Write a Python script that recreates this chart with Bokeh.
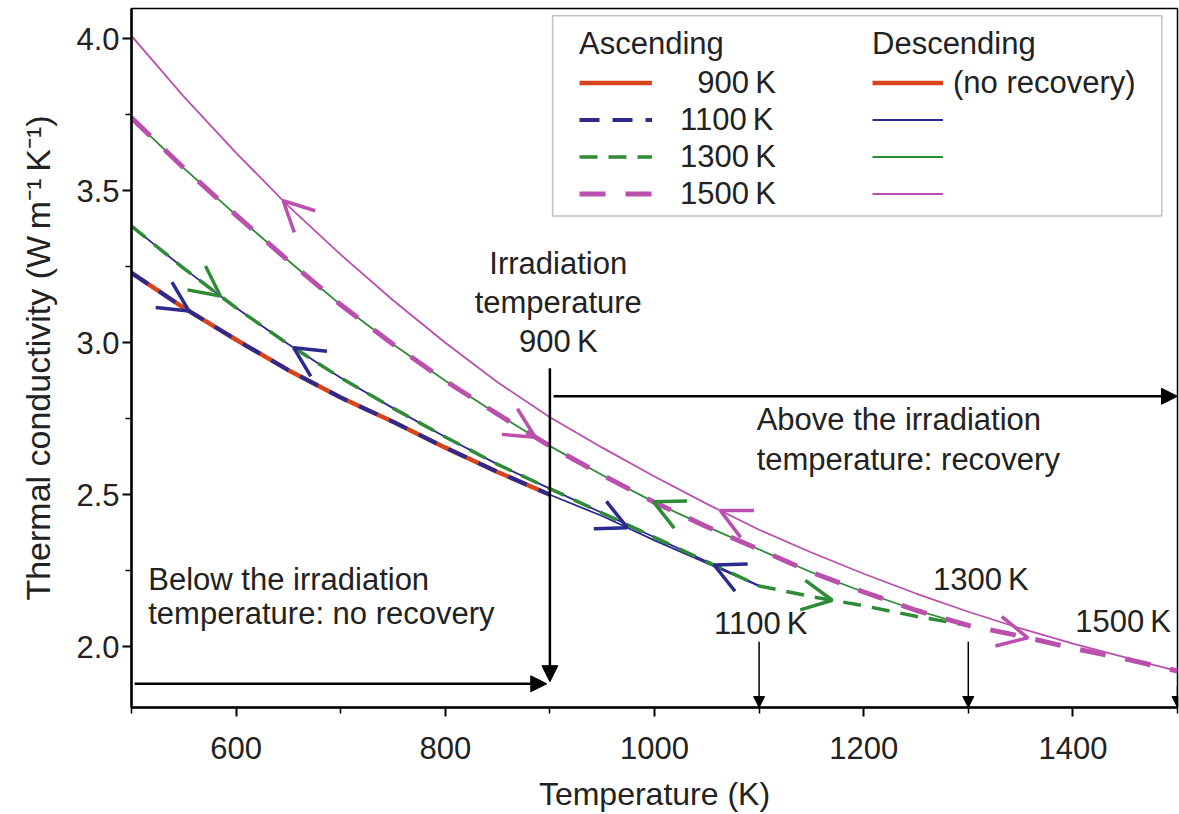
import numpy as np
from bokeh.plotting import figure
from bokeh.models import (Range1d, FixedTicker, NumeralTickFormatter, Arrow, OpenHead,
                          NormalHead, Label, Legend, LegendItem, BoxAnnotation)
from bokeh.embed import file_html
from bokeh.resources import INLINE

# ---------------- data ----------------
T_asc900 = [500, 550, 600, 650, 700, 750, 800, 850, 900]
k_asc900 = [3.23, 3.115, 3.01, 2.91, 2.82, 2.74, 2.655, 2.575, 2.50]

T_asc1100 = [500, 550, 600, 650, 700, 750, 800, 850, 900, 950, 1000, 1050, 1100]
k_asc1100 = [3.23, 3.115, 3.01, 2.91, 2.82, 2.74, 2.655, 2.575, 2.50, 2.43, 2.35, 2.275, 2.20]

T_desc1100 = [500, 550, 600, 650, 700, 750, 800, 850, 900, 950, 1000, 1050, 1100]
k_desc1100 = [3.384, 3.245, 3.115, 2.995, 2.885, 2.785, 2.69, 2.60, 2.52, 2.44, 2.36, 2.28, 2.20]

T_asc1300 = [500, 550, 600, 650, 700, 750, 800, 850, 900, 950, 1000, 1050, 1100,
             1150, 1200, 1250, 1300]
k_asc1300 = [3.384, 3.245, 3.115, 2.995, 2.885, 2.785, 2.69, 2.60, 2.52, 2.44, 2.36, 2.28, 2.20,
             2.165, 2.135, 2.10, 2.07]

T_desc1300 = [500, 550, 600, 650, 700, 750, 800, 850, 900, 950, 1000, 1050, 1100,
              1150, 1200, 1250, 1300]
k_desc1300 = [3.74, 3.575, 3.42, 3.27, 3.125, 2.995, 2.875, 2.765, 2.66, 2.565, 2.475, 2.395, 2.32,
              2.245, 2.18, 2.12, 2.07]

T_asc1500 = [500, 550, 600, 650, 700, 750, 800, 850, 900, 950, 1000, 1050, 1100,
             1150, 1200, 1250, 1300, 1350, 1400, 1450, 1500]
k_asc1500 = [3.74, 3.575, 3.42, 3.27, 3.125, 2.995, 2.875, 2.765, 2.66, 2.565, 2.475, 2.395, 2.32,
             2.245, 2.18, 2.12, 2.07, 2.035, 1.995, 1.96, 1.92]

T_desc1500 = [500, 550, 600, 650, 700, 750, 800, 850, 900, 950, 1000, 1050, 1100,
              1150, 1200, 1250, 1300, 1350, 1400, 1450, 1500]
k_desc1500 = [4.01, 3.81, 3.625, 3.45, 3.29, 3.14, 3.00, 2.87, 2.755, 2.655, 2.56, 2.47, 2.385,
              2.31, 2.24, 2.175, 2.115, 2.06, 2.01, 1.965, 1.92]

T_irradiation = 900

x_major_ticks = [600, 800, 1000, 1200, 1400]
x_minor_ticks = [500, 700, 900, 1100, 1300, 1500]
y_major_ticks = [2.0, 2.5, 3.0, 3.5, 4.0]
y_minor_ticks = [2.25, 2.75, 3.25, 3.75]

# direction arrows on curves: (curve, tip temperature, direction)
curve_arrows = [
    ("asc1100", 555, 1), ("asc1300", 585, 1), ("desc1100", 655, -1), ("desc1500", 645, -1),
    ("asc1500", 886, 1), ("asc1100", 974, 1), ("desc1300", 999, -1), ("desc1500", 1063, -1),
    ("desc1100", 1057, -1), ("asc1300", 1170, 1), ("asc1500", 1357, 1),
]

# ---------------- styling ----------------
RED = "#d8441c"
BLUE = "#2c2a8e"
GREEN = "#2e8b36"
MAG = "#bb4fae"
FONT = "Liberation Sans"
FS = "31px"
TXT = "#222222"

p = figure(width=1179, height=814, x_range=Range1d(500, 1500), y_range=Range1d(1.8, 4.1),
           output_backend="svg", toolbar_location=None,
           min_border_left=131, min_border_right=2, min_border_top=8, min_border_bottom=107)
p.xgrid.visible = False
p.ygrid.visible = False
p.outline_line_color = "black"
p.outline_line_width = 1.5

for ax in (p.xaxis[0], p.yaxis[0]):
    ax.axis_line_width = 2.5
    ax.major_tick_line_width = 2
    ax.minor_tick_line_width = 1.5
    ax.major_tick_in = 0
    ax.major_tick_out = 9
    ax.minor_tick_in = 0
    ax.minor_tick_out = 6
    ax.major_label_text_font = FONT
    ax.major_label_text_font_size = FS
    ax.major_label_text_color = TXT
    ax.axis_label_text_font = FONT
    ax.axis_label_text_font_style = "normal"
    ax.axis_label_text_color = TXT

p.xaxis.axis_label_text_font_size = "32px"
p.yaxis.axis_label_text_font_size = "34px"
p.xaxis.ticker = FixedTicker(ticks=x_major_ticks, minor_ticks=x_minor_ticks)
p.yaxis.ticker = FixedTicker(ticks=y_major_ticks, minor_ticks=y_minor_ticks)
p.yaxis.formatter = NumeralTickFormatter(format="0.0")
p.xaxis.axis_label = "Temperature (K)"
p.yaxis.axis_label = "Thermal conductivity (W\u2009m\u207b\u00b9\u2009K\u207b\u00b9)"
p.xaxis.major_label_standoff = 20
p.xaxis.axis_label_standoff = 14
p.yaxis.major_label_standoff = 3
p.yaxis.axis_label_standoff = 16

# ---------------- curves ----------------
T_a1100 = np.array(T_asc1100)
k_a1100 = np.array(k_asc1100)
below = T_a1100 <= T_irradiation
above = T_a1100 >= T_irradiation

r_a900 = p.line(T_asc900, k_asc900, line_color=RED, line_width=4.5)
r_a1100 = p.line(T_a1100[below], k_a1100[below], line_color=BLUE, line_width=4, line_dash="20 13")
p.line(T_a1100[above], k_a1100[above], line_color=BLUE, line_width=1.8)
r_d1100 = p.line(T_desc1100, k_desc1100, line_color=BLUE, line_width=1.8)
r_a1300 = p.line(T_asc1300, k_asc1300, line_color=GREEN, line_width=3.5, line_dash="18 11")
r_d1300 = p.line(T_desc1300, k_desc1300, line_color=GREEN, line_width=1.8)
r_a1500 = p.line(T_asc1500, k_asc1500, line_color=MAG, line_width=5, line_dash="26 20")
r_d1500 = p.line(T_desc1500, k_desc1500, line_color=MAG, line_width=1.8)

curves = {
    "asc1100": (T_asc1100, k_asc1100, BLUE),
    "desc1100": (T_desc1100, k_desc1100, BLUE),
    "asc1300": (T_asc1300, k_asc1300, GREEN),
    "desc1300": (T_desc1300, k_desc1300, GREEN),
    "asc1500": (T_asc1500, k_asc1500, MAG),
    "desc1500": (T_desc1500, k_desc1500, MAG),
}
for name, t_tip, d in curve_arrows:
    Ts, ks, col = curves[name]
    t0 = t_tip - 12 * d
    p.add_layout(Arrow(x_start=t0, y_start=float(np.interp(t0, Ts, ks)),
                       x_end=t_tip, y_end=float(np.interp(t_tip, Ts, ks)),
                       line_alpha=0, line_width=0,
                       end=OpenHead(size=30, line_color=col, line_width=3.5)))

# ---------------- black annotation arrows ----------------
def black_arrow(x0, y0, x1, y1, lw, size):
    p.add_layout(Arrow(x_start=x0, y_start=y0, x_end=x1, y_end=y1,
                       line_color="black", line_width=lw,
                       end=NormalHead(size=size, fill_color="black", line_color="black",
                                      line_width=1)))

black_arrow(900, 2.916, 900, 1.885, 2.5, 16)
black_arrow(503, 1.878, 897, 1.878, 2.5, 16)
black_arrow(903.5, 2.824, 1500, 2.824, 2.5, 16)
black_arrow(1100, 2.016, 1100, 1.80, 1.5, 11)
black_arrow(1300, 2.016, 1300, 1.80, 1.5, 11)
black_arrow(1500, 1.87, 1500, 1.80, 1.5, 11)

# ---------------- text labels ----------------
def lab(x, y, text, align="left"):
    p.add_layout(Label(x=x, y=y, text=text, text_font=FONT, text_font_size=FS,
                       text_color=TXT, text_align=align, text_baseline="middle"))

lab(908, 3.262, "Irradiation", "center")
lab(908, 3.131, "temperature", "center")
lab(908, 3.005, "900\u2009K", "center")
lab(1097.7, 2.748, "Above the irradiation")
lab(1097.7, 2.616, "temperature: recovery")
lab(516, 2.221, "Below the irradiation")
lab(516, 2.109, "temperature: no recovery")
lab(1101.6, 2.076, "1100\u2009K", "center")
lab(1312, 2.221, "1300\u2009K", "center")
lab(1448, 2.082, "1500\u2009K", "center")

# ---------------- legend ----------------
p.add_layout(BoxAnnotation(left=902.6, right=1485, bottom=3.417, top=4.076,
                           fill_color="white", fill_alpha=1.0,
                           line_color="#333333", line_width=1.5))

common = dict(border_line_alpha=0, background_fill_alpha=0,
              label_text_font=FONT, label_text_font_size=FS, label_text_color=TXT,
              title_text_font=FONT, title_text_font_size=FS, title_text_font_style="normal",
              title_text_color=TXT,
              glyph_height=37, label_height=37, spacing=0, padding=5, margin=0,
              title_standoff=2)

legA = Legend(items=[LegendItem(label="\u2007900\u2009K", renderers=[r_a900]),
                     LegendItem(label="1100\u2009K", renderers=[r_a1100]),
                     LegendItem(label="1300\u2009K", renderers=[r_a1300]),
                     LegendItem(label="1500\u2009K", renderers=[r_a1500])],
              title="Ascending", location=(443, 490), glyph_width=73, label_standoff=28,
              **common)
legB = Legend(items=[LegendItem(label="(no recovery)", renderers=[r_a900]),
                     LegendItem(label=" ", renderers=[r_d1100]),
                     LegendItem(label=" ", renderers=[r_d1300]),
                     LegendItem(label=" ", renderers=[r_d1500])],
              title="Descending", location=(736, 490), glyph_width=71, label_standoff=10,
              **common)
p.add_layout(legA)
p.add_layout(legB)

open("out.html", "w").write(file_html(p, INLINE))
